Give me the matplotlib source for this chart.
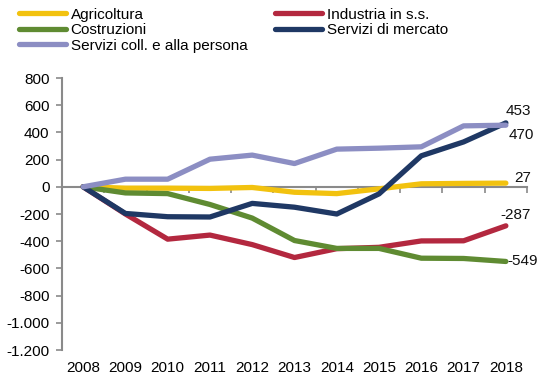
import matplotlib
matplotlib.use("Agg")
import matplotlib.pyplot as plt
from matplotlib.ticker import FuncFormatter, FixedLocator

plt.rcParams['font.family'] = ['Liberation Sans', 'DejaVu Sans']

years = ["2008", "2009", "2010", "2011", "2012", "2013", "2014", "2015", "2016", "2017", "2018"]
agricoltura = [0, -10, -10, -12, -5, -40, -50, -15, 22, 25, 27]
industria = [0, -200, -385, -355, -425, -520, -455, -445, -398, -397, -287]
costruzioni = [0, -45, -50, -130, -230, -395, -453, -453, -525, -527, -549]
servizi_mercato = [0, -196, -220, -222, -122, -150, -200, -52, 228, 330, 470]
servizi_coll = [0, 56, 56, 203, 233, 171, 277, 284, 294, 448, 453]

series = [
    ("Agricoltura", agricoltura, "#F2C20F"),
    ("Industria in s.s.", industria, "#B3283F"),
    ("Costruzioni", costruzioni, "#5F8B32"),
    ("Servizi di mercato", servizi_mercato, "#1F3864"),
    ("Servizi coll. e alla persona", servizi_coll, "#8C8EC3"),
]
# label offsets in points (dx, dy)
label_offsets = {
    "Agricoltura": (12, 4),
    "Industria in s.s.": (7, 8),
    "Costruzioni": (12, 0),
    "Servizi di mercato": (11, -9),
    "Servizi coll. e alla persona": (9, 10),
}

fig = plt.figure(figsize=(5.53, 3.85), dpi=100)
ax = fig.add_axes([62/553, 35/385, 465/553, 272/385])

x = list(range(len(years)))
handles = {}
for name, vals, col in series:
    h, = ax.plot(x, vals, color=col, lw=3.8, solid_capstyle='round', solid_joinstyle='round', label=name)
    handles[name] = h
    dx, dy = label_offsets[name]
    ax.annotate(f"{vals[-1]}", (x[-1], vals[-1]), xytext=(dx, dy),
                textcoords='offset points', ha='center', va='center', fontsize=11, color='#111111')

ax.set_xlim(-0.5, 10.5)
ax.set_ylim(-1200, 800)
ax.set_yticks(range(-1200, 801, 200))
ax.yaxis.set_major_formatter(FuncFormatter(lambda v, p: f"{v:,.0f}".replace(",", ".")))

for s in ['top', 'right']:
    ax.spines[s].set_visible(False)
ax.spines['left'].set_color('#8a8a8a')
ax.spines['left'].set_linewidth(1.5)
ax.spines['bottom'].set_position(('data', 0))
ax.spines['bottom'].set_color('#8a8a8a')
ax.spines['bottom'].set_linewidth(1.5)
ax.spines['bottom'].set_zorder(0)

ax.xaxis.set_major_locator(FixedLocator([i - 0.5 for i in range(12)]))
ax.tick_params(axis='x', which='major', length=4, width=1.2, color='#8a8a8a', labelbottom=False, direction='out')
ax.tick_params(axis='y', length=4, width=1.2, color='#8a8a8a', labelsize=11, pad=5, direction='out')

sec = ax.secondary_xaxis(0)
sec.set_xticks(x)
sec.set_xticklabels(years)
sec.tick_params(length=0, labelsize=11, pad=8)
sec.spines['bottom'].set_visible(False)

order = ["Agricoltura", "Costruzioni", "Servizi coll. e alla persona",
         "Industria in s.s.", "Servizi di mercato"]
leg = fig.legend(handles=[handles[n] for n in order], labels=order, loc='upper left',
                 bbox_to_anchor=(11/553, 1.0), ncol=2, frameon=False, fontsize=11,
                 handlelength=3.1, handletextpad=0.3, columnspacing=1.8, labelspacing=0.1,
                 borderaxespad=0.1)

fig.savefig("out.png", dpi=100)
